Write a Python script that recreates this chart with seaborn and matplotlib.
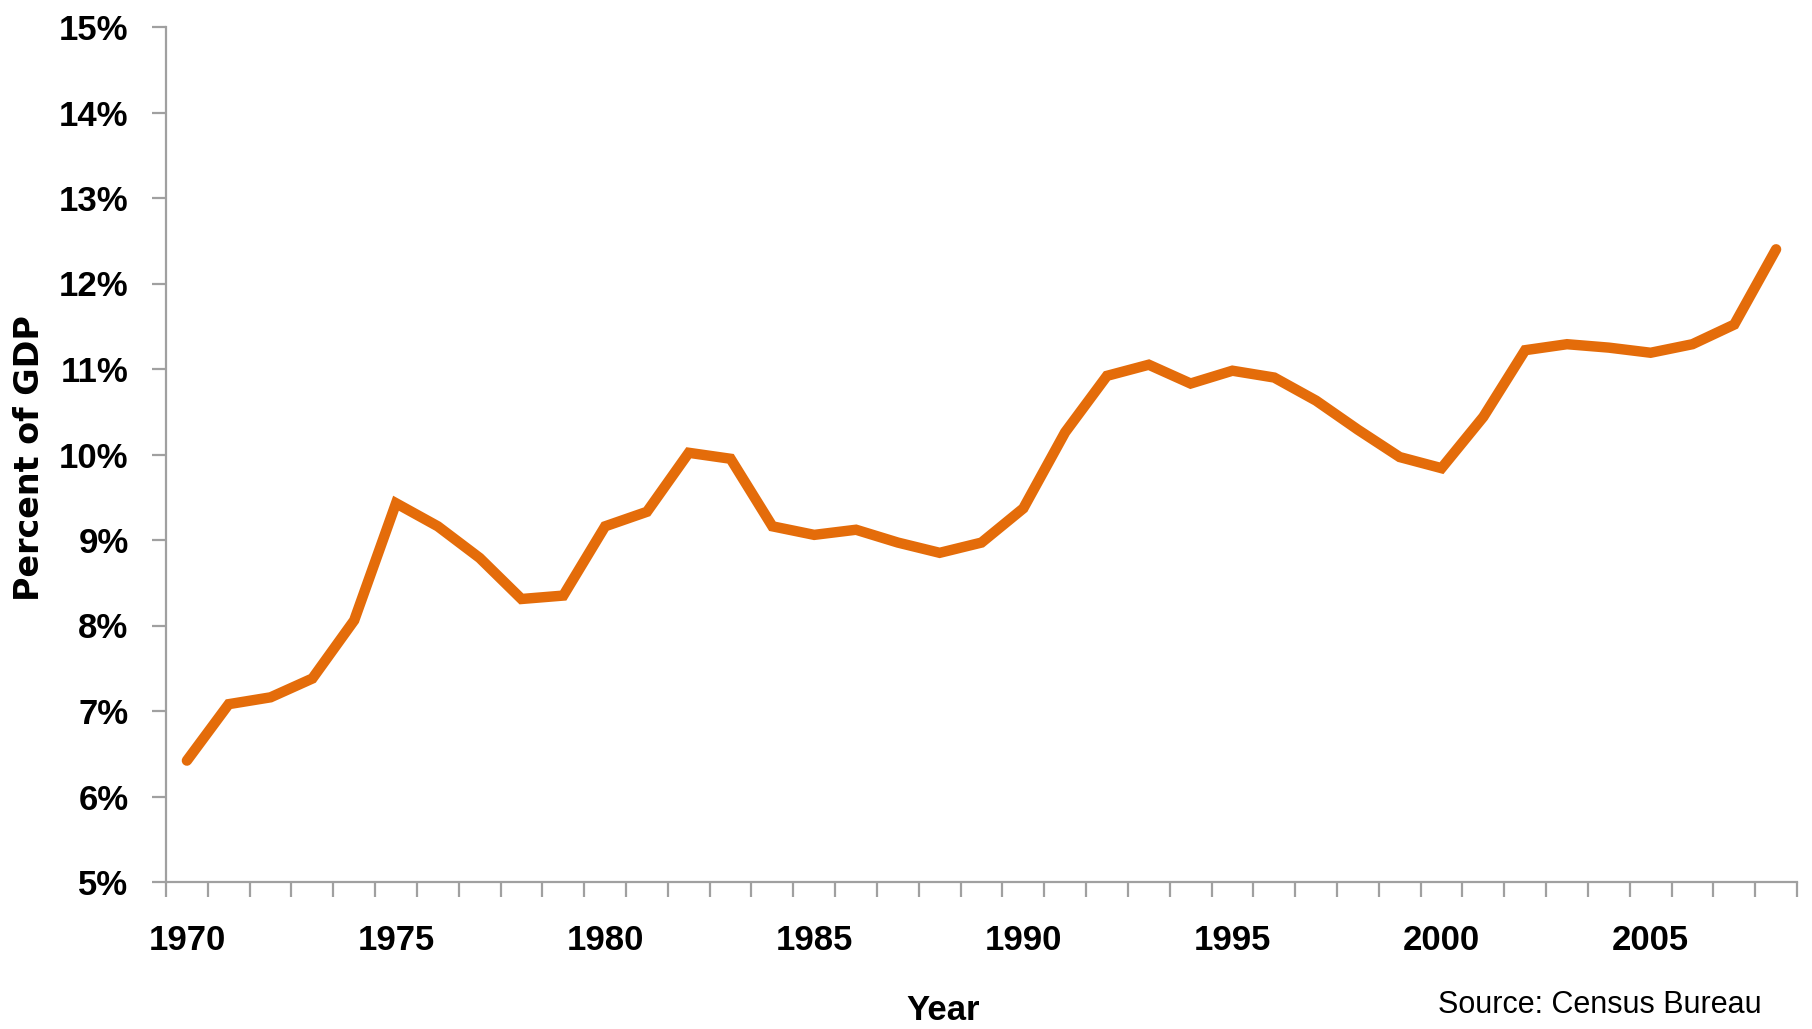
import matplotlib
matplotlib.use("Agg")
import matplotlib.pyplot as plt
import matplotlib.ticker as mticker
import seaborn as sns
import pandas as pd
import numpy as np

years = list(range(1970, 2009))
pct_gdp = [6.42, 7.08, 7.16, 7.38, 8.06, 9.43, 9.16, 8.79, 8.31, 8.35,
           9.16, 9.33, 10.02, 9.95, 9.16, 9.06, 9.12, 8.97, 8.85, 8.97,
           9.37, 10.26, 10.92, 11.05, 10.83, 10.98, 10.90, 10.63, 10.29, 9.97,
           9.84, 10.44, 11.22, 11.29, 11.25, 11.19, 11.29, 11.52, 12.40]
xtick_years = [1970, 1975, 1980, 1985, 1990, 1995, 2000, 2005]
ytick_vals = [5, 6, 7, 8, 9, 10, 11, 12, 13, 14, 15]

df = pd.DataFrame({"Year": years, "Percent": pct_gdp})

sns.set_theme(style="white")
FONT = ["Liberation Sans", "DejaVu Sans"]
plt.rcParams["font.family"] = FONT
plt.rcParams["text.color"] = "black"

fig = plt.figure(figsize=(18.12, 10.29), dpi=100)
ax = fig.add_axes([166 / 1812, 1 - 882 / 1029, (1797 - 166) / 1812, (882 - 27) / 1029])

sns.lineplot(data=df, x="Year", y="Percent", ax=ax, color="#E46C0A",
             linewidth=7.5, solid_capstyle="round", solid_joinstyle="miter")

ax.set_xlim(1969.5, 2008.5)
ax.set_ylim(5, 15)

grey = "#A0A0A0"
for s in ["top", "right"]:
    ax.spines[s].set_visible(False)
for s in ["left", "bottom"]:
    ax.spines[s].set_color(grey)
    ax.spines[s].set_linewidth(1.6)

# y axis
ax.set_yticks(ytick_vals)
ax.yaxis.set_major_formatter(mticker.FuncFormatter(lambda v, p: f"{int(round(v))}%"))
ax.tick_params(axis="y", which="major", direction="out", length=10, width=1.6,
               color=grey, pad=17, left=True, labelsize=25, labelcolor="black")

# x axis: boundary ticks without labels, labels at year positions without ticks
ax.set_xticks(np.arange(1969.5, 2009.0, 1.0))
ax.xaxis.set_major_formatter(mticker.NullFormatter())
ax.set_xticks(xtick_years, minor=True)
ax.set_xticklabels([str(y) for y in xtick_years], minor=True)
ax.tick_params(axis="x", which="major", direction="out", length=11, width=1.6,
               color=grey, bottom=True)
ax.tick_params(axis="x", which="minor", length=0, pad=30, labelsize=25,
               labelcolor="black", bottom=True)

for lab in ax.get_yticklabels() + ax.get_xticklabels(minor=True):
    lab.set_fontweight("bold")
    lab.set_family(FONT)

ax.set_xlabel("")
ax.set_ylabel("")
ax.grid(False)

fig.text(29.5 / 1812, 1 - 458 / 1029, "Percent of GDP", rotation=90,
         ha="center", va="center", fontsize=24, fontweight="bold",
         color="black", family=["DejaVu Sans"])
fig.text(943 / 1812, 1 - 1011 / 1029, "Year", ha="center", va="center",
         fontsize=25, fontweight="bold", color="black", family=FONT)
fig.text(1762 / 1812, 1 - 1005 / 1029, "Source: Census Bureau", ha="right",
         va="center", fontsize=22, color="black", family=FONT)

fig.savefig("out.png", dpi=100, facecolor="white")
